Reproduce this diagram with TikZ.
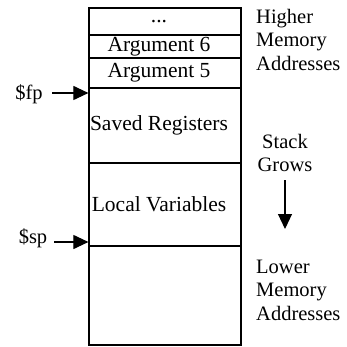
\documentclass[tikz,border=0pt]{standalone}
\usepackage{fontspec}
\setmainfont{Liberation Serif}
\usetikzlibrary{arrows.meta}
\begin{document}
\begin{tikzpicture}[x=1pt,y=-1pt,
  cell/.style={draw, line width=1.2pt, minimum width=152pt, inner sep=0pt},
  txt/.style={font=\fontsize{21.5}{23}\selectfont, xshift=-6pt},
  side/.style={font=\fontsize{20.5}{23.5}\selectfont, align=left, inner sep=0pt},
  arr/.style={line width=1.1pt, -{Triangle[length=15pt,width=14pt]}}]
\useasboundingbox (0,0) rectangle (347,347);
\node[cell, minimum height=27pt, label={[txt]center:...}] (dots) at (165,21.5) {};
\node[cell, minimum height=23pt, label={[txt]center:Argument 6}] (arg6) at (165,46.5) {};
\node[cell, minimum height=30pt, label={[txt]center:Argument 5}] (arg5) at (165,73) {};
\node[cell, minimum height=75pt, label={[txt]center:Saved Registers}] (saved) at (165,125.5) {};
\node[cell, minimum height=83pt, label={[txt]center:Local Variables}] (local) at (165,204.5) {};
\node[cell, minimum height=99pt] (free) at (165,295.5) {};
\node[side, anchor=west] (higher) at (256,39.5) {Higher\\Memory\\Addresses};
\node[side, anchor=west] (lower) at (256,290) {Lower\\Memory\\Addresses};
\node[side, align=center] (grows) at (285,153) {Stack\\Grows};
\node[side] (fp) at (29,94) {\$fp};
\node[side] (sp) at (33,238) {\$sp};
\coordinate (fpstart) at (52,93);
\coordinate (spstart) at (54,242);
\coordinate (gstart) at (285,180);
\coordinate (gend) at (285,229);
\draw[arr] (fpstart) -- (fpstart -| saved.west);
\draw[arr] (spstart) -- (spstart -| local.west);
\draw[arr] (gstart) -- (gend);
\end{tikzpicture}
\end{document}
